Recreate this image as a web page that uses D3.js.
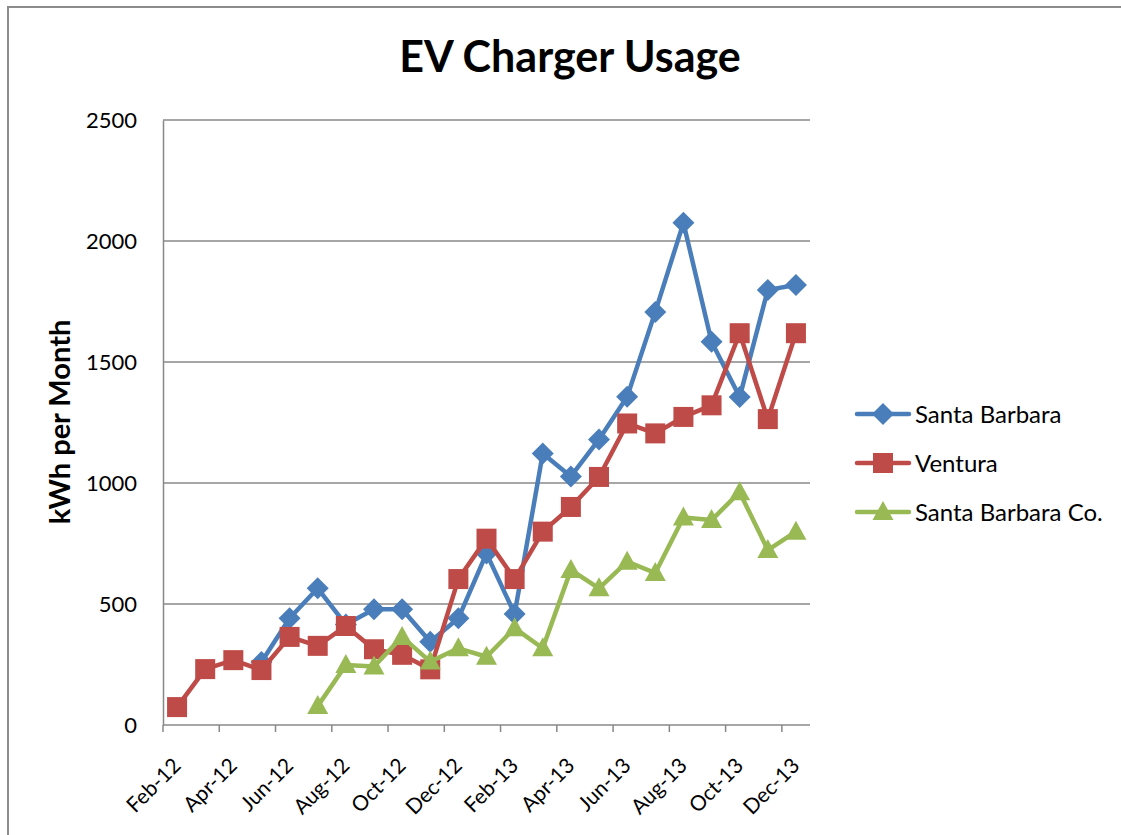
<!DOCTYPE html>
<html><head><meta charset="utf-8">
<script src="https://cdn.jsdelivr.net/npm/d3@7"></script>
<style>body{margin:0;background:#fff;} text{font-family:Lato,"Open Sans",sans-serif;}</style>
</head><body><svg id="c" width="1121" height="835"></svg>
<script>
const months = ["Feb-12","Mar-12","Apr-12","May-12","Jun-12","Jul-12","Aug-12","Sep-12","Oct-12","Nov-12","Dec-12","Jan-13","Feb-13","Mar-13","Apr-13","May-13","Jun-13","Jul-13","Aug-13","Sep-13","Oct-13","Nov-13","Dec-13"];
const tickLabels = ["Feb-12","Apr-12","Jun-12","Aug-12","Oct-12","Dec-12","Feb-13","Apr-13","Jun-13","Aug-13","Oct-13","Dec-13"];
const yTicks = [0,500,1000,1500,2000,2500];
const santaBarbara = [null,null,null,260,441,565,415,478,478,344,441,709,459,1122,1027,1180,1356,1707,2075,1584,1355,1798,1818];
const ventura = [74,231,268,227,364,327,409,313,290,230,603,770,603,799,901,1025,1246,1205,1273,1321,1619,1264,1619];
const santaBarbaraCo = [null,null,null,null,null,78,248,242,364,262,317,282,400,317,641,565,675,628,857,847,962,723,799];
const seriesNames = ["Santa Barbara","Ventura","Santa Barbara Co."];
const colors = ["#4A7EBB","#BE4B48","#98B954"];

const svg = d3.select("#c");
svg.append("rect").attr("x",8).attr("y",7).attr("width",1130).attr("height",850)
  .attr("fill","none").attr("stroke","#8c8c8c").attr("stroke-width",2);

const L=163, R=810, T=120, B=725;
const x = d3.scaleBand().domain(months).range([L,R]);
const cx = m => x(m)+x.bandwidth()/2;
const y = d3.scaleLinear().domain([0,2500]).range([B,T]);

svg.append("g").selectAll("line").data(yTicks.filter(d=>d>0)).join("line")
  .attr("x1",L).attr("x2",R).attr("y1",d=>y(d)).attr("y2",d=>y(d))
  .attr("stroke","#888").attr("stroke-width",1.5);

const ya = svg.append("g").attr("transform",`translate(${L},0)`)
  .call(d3.axisLeft(y).tickValues(yTicks).tickFormat(d3.format("d")).tickSize(0).tickPadding(26));
ya.select(".domain").attr("stroke","#888").attr("stroke-width",1.5);
ya.selectAll("text").attr("font-size",22).attr("fill","#000")
  .attr("font-family","Lato,'Open Sans',sans-serif");

const xa = svg.append("g").attr("transform",`translate(0,${B})`)
  .call(d3.axisBottom(x).tickValues(tickLabels).tickSize(0).tickFormat(""));
xa.select(".domain").attr("stroke","#888").attr("stroke-width",1.5).attr("d",`M${L},0H${R}`);
svg.append("g").selectAll("line").data(tickLabels).join("line")
  .attr("x1",d=>x(d)).attr("x2",d=>x(d)).attr("y1",B).attr("y2",B+7)
  .attr("stroke","#888").attr("stroke-width",1.5);
svg.append("g").selectAll("text").data(tickLabels).join("text")
  .attr("transform",d=>`translate(${x(d)+19},${B+42}) rotate(-45)`)
  .attr("text-anchor","end").attr("font-size",21).attr("fill","#000").text(d=>d);

svg.append("text").attr("x",570).attr("y",72).attr("text-anchor","middle")
  .attr("font-size",43).attr("font-weight","bold").text("EV Charger Usage");
svg.append("text").attr("transform","translate(70,422) rotate(-90)").attr("text-anchor","middle")
  .attr("font-size",29).attr("font-weight","bold").text("kWh per Month");

const allSeries = [santaBarbara, ventura, santaBarbaraCo];
const shapePaths = [
  "M0,-11L11,0L0,11L-11,0Z",
  "M-10,-10H10V10H-10Z",
  "M0,-11L10.5,8H-10.5Z"
];
const line = d3.line().defined(d=>d.v!=null).x(d=>cx(d.m)).y(d=>y(d.v));

allSeries.forEach((s,i)=>{
  const data = months.map((m,j)=>({m, v:s[j]}));
  const g = svg.append("g");
  g.append("path").datum(data).attr("d",line).attr("fill","none")
    .attr("stroke",colors[i]).attr("stroke-width",4.5).attr("stroke-linejoin","round");
  g.selectAll("path.mk").data(data.filter(d=>d.v!=null)).join("path").attr("class","mk")
    .attr("transform",d=>`translate(${cx(d.m)},${y(d.v)})`)
    .attr("d",shapePaths[i]).attr("fill",colors[i]);
});

const leg = svg.append("g");
seriesNames.forEach((n,i)=>{
  const yy = 414 + i*49;
  leg.append("line").attr("x1",857).attr("x2",909).attr("y1",yy).attr("y2",yy)
    .attr("stroke",colors[i]).attr("stroke-width",4.5).attr("stroke-linecap","round");
  leg.append("path").attr("transform",`translate(883,${yy})`)
    .attr("d",shapePaths[i]).attr("fill",colors[i]);
  leg.append("text").attr("x",915).attr("y",yy).attr("dy","0.36em").attr("font-size",24).text(n);
});
</script></body></html>
